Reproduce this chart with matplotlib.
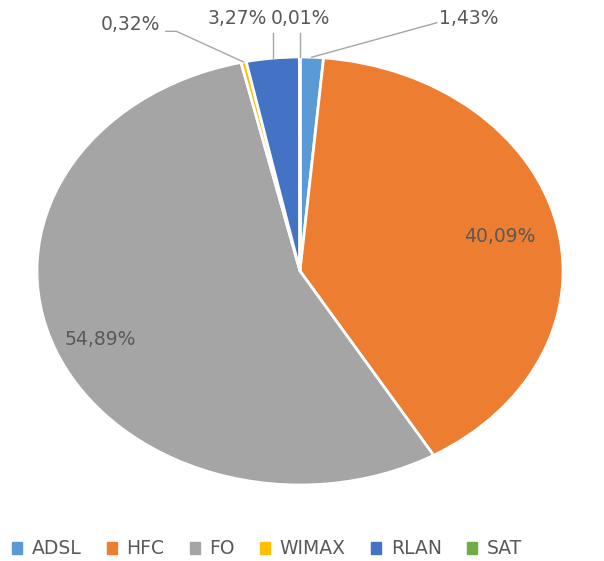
import matplotlib.pyplot as plt
import numpy as np

categories = ["ADSL", "HFC", "FO", "WIMAX", "RLAN", "SAT"]
values = [1.43, 40.09, 54.89, 0.32, 3.27, 0.01]
labels = ["1,43%", "40,09%", "54,89%", "0,32%", "3,27%", "0,01%"]
colors = ["#5B9BD5", "#ED7D31", "#A5A5A5", "#FFC000", "#4472C4", "#70AD47"]

W, H = 604, 561
fig = plt.figure(figsize=(W / 100, H / 100), dpi=100)
# pie is stretched horizontally in the reference, so use a non-square axes
ax = fig.add_axes([37 / W, (H - 485) / H, 526 / W, 428 / H])

wedges, _ = ax.pie(values, colors=colors, startangle=90, counterclock=False,
                   wedgeprops=dict(edgecolor="white", linewidth=2))
ax.set_aspect("auto")
ax.set_xlim(-1, 1)
ax.set_ylim(-1, 1)

txt = "#595959"
fs = 13.5

# inside labels
ax.text(0.76, 0.16, labels[1], ha="center", va="center", color=txt, fontsize=fs)
ax.text(-0.76, -0.32, labels[2], ha="center", va="center", color=txt, fontsize=fs)


def mid_point(w, r=1.0):
    a = np.deg2rad((w.theta1 + w.theta2) / 2)
    return r * np.cos(a), r * np.sin(a)


line_kw = dict(color="#A6A6A6", lw=1, clip_on=False)
# ADSL
x0, y0 = mid_point(wedges[0])
ax.plot([x0, 0.52], [y0, 1.16], **line_kw)
ax.text(0.53, 1.18, labels[0], ha="left", va="center", color=txt, fontsize=fs)
# SAT
x0, y0 = mid_point(wedges[5])
ax.plot([x0, x0], [y0, 1.11], **line_kw)
ax.text(0.0, 1.18, labels[5], ha="center", va="center", color=txt, fontsize=fs)
# RLAN
x0, y0 = mid_point(wedges[4])
ax.plot([x0, x0], [y0, 1.11], **line_kw)
ax.text(-0.24, 1.18, labels[4], ha="center", va="center", color=txt, fontsize=fs)
# WIMAX
x0, y0 = mid_point(wedges[3])
ax.plot([x0, -0.47, -0.51], [y0, 1.12, 1.12], **line_kw)
ax.text(-0.53, 1.15, labels[3], ha="right", va="center", color=txt, fontsize=fs)

handles = [plt.Rectangle((0, 0), 1, 1, color=c) for c in colors]
fig.legend(handles, categories, loc="center", bbox_to_anchor=(267 / W, 1 - 549 / H),
           ncol=6, frameon=False, fontsize=13.5, labelcolor=txt,
           handlelength=0.55, handleheight=0.55, handletextpad=0.5,
           columnspacing=1.35)

fig.savefig("out.png", dpi=100)
